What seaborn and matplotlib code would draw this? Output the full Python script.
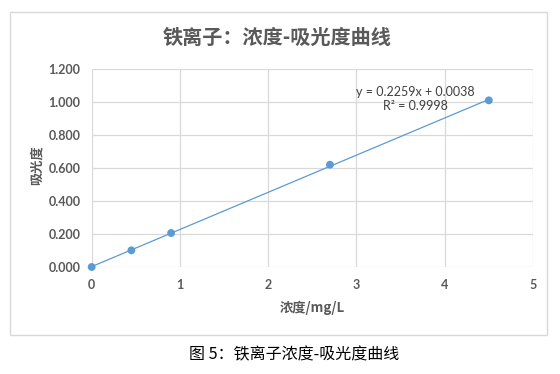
import seaborn as sns
import numpy as np
import pandas as pd
import matplotlib.pyplot as plt
from matplotlib.patches import Rectangle
from matplotlib.ticker import FormatStrFormatter

# concentration (mg/L) and absorbance readings
concentration = [0, 0.45, 0.9, 2.7, 4.5]
absorbance = [0.000, 0.101, 0.206, 0.620, 1.010]
x_ticks = [0, 1, 2, 3, 4, 5]
y_ticks = [0.0, 0.2, 0.4, 0.6, 0.8, 1.0, 1.2]

title = "铁离子：浓度-吸光度曲线"
x_label = "浓度/mg/L"
y_label = "吸光度"
equation = "y = 0.2259x + 0.0038\nR² = 0.9998"
caption = "图 5：铁离子浓度-吸光度曲线"

df = pd.DataFrame({"conc": concentration, "abs": absorbance})

sns.set_theme(style="white")
plt.rcParams["font.family"] = ["Lato", "Noto Sans CJK SC", "DejaVu Sans"]

blue = "#5b9bd5"
grey = "#595959"
grid = "#d9d9d9"

fig = plt.figure(figsize=(5.6, 3.74), dpi=100)
ax = fig.add_axes([0.1637, 0.2861, 0.788, 0.5294])

# chart frame like the excel chart area
fig.patches.append(Rectangle((9.5 / 560, 1 - 335 / 374), (547 - 9.5) / 560, (335 - 11.7) / 374,
                             transform=fig.transFigure, fill=False, edgecolor=grid, linewidth=1))

sns.regplot(data=df, x="conc", y="abs", ax=ax, ci=None, color=blue,
            scatter_kws={"s": 32, "zorder": 3, "edgecolor": "none", "alpha": 1, "clip_on": False},
            line_kws={"linewidth": 0.9, "clip_on": False})

ax.set_xlim(0, 5)
ax.set_ylim(0, 1.2)
ax.set_xticks(x_ticks)
ax.set_yticks(y_ticks)
ax.yaxis.set_major_formatter(FormatStrFormatter("%.3f"))
ax.grid(True, color=grid, linewidth=0.9)
ax.set_axisbelow(True)
for s in ax.spines.values():
    s.set_visible(False)
ax.tick_params(length=0, labelsize=9, colors=grey)
ax.tick_params(axis="y", pad=8)
ax.tick_params(axis="x", pad=9)
for lab in ax.get_xticklabels() + ax.get_yticklabels():
    lab.set_fontweight("bold")

ax.set_xlabel("")
ax.set_ylabel("")
fig.text(312 / 560, 1 - 308 / 374, x_label, ha="center", va="center",
         fontsize=9.5, fontweight="bold", color=grey,
         family=["Noto Sans CJK SC", "DejaVu Sans"])
fig.text(37 / 560, 1 - 165 / 374, y_label, ha="center", va="center", rotation=90,
         fontsize=9.5, fontweight="bold", color=grey, family=["Noto Sans CJK SC"])

fig.text(277 / 560, 1 - 37 / 374, title, ha="center", va="center",
         fontsize=14.5, fontweight="bold", color=grey, family=["Noto Sans CJK SC"])

ax.text(415 / 560, 1 - 99 / 374, equation, transform=fig.transFigure, ha="center", va="center",
        fontsize=9, color="#404040", linespacing=1.3)

fig.text(294 / 560, 1 - 355 / 374, caption, ha="center", va="center",
         fontsize=11.5, color="black", family=["Noto Sans CJK SC", "DejaVu Sans"])

plt.savefig("out.png", dpi=100)
